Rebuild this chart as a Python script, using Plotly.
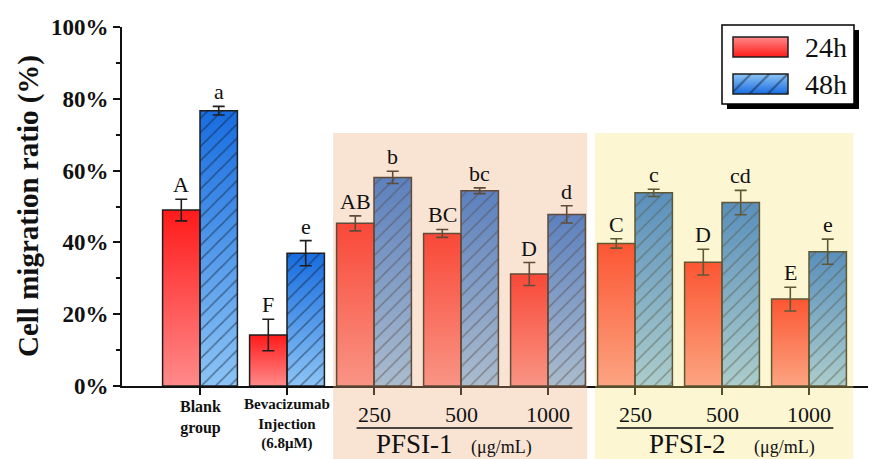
import plotly.graph_objects as go

# ---------------- data ----------------
group_labels = ["<b>Blank<br>group</b>", "<b>Bevacizumab<br>Injection<br>(6.8μM)</b>",
                "250", "500", "1000", "250", "500", "1000"]
v24 = [49.0, 14.2, 45.3, 42.5, 31.2, 39.7, 34.5, 24.2]
e24 = [3.0, 4.4, 2.1, 1.1, 3.2, 1.3, 3.6, 3.3]
v48 = [76.7, 37.0, 58.1, 54.4, 47.8, 53.8, 51.1, 37.4]
e48 = [1.2, 3.5, 1.7, 0.8, 2.4, 1.0, 3.4, 3.5]
l24 = ["A", "F", "AB", "BC", "D", "C", "D", "E"]
l48 = ["a", "e", "b", "bc", "d", "c", "cd", "e"]
y_ticks = [0, 20, 40, 60, 80, 100]
y_minor = [10, 30, 50, 70, 90]
series_names = ["24h", "48h"]
dose_groups = ["PFSI-1", "PFSI-2"]
unit = "(μg/mL)"

W, H = 876, 459
OFF = 8            # page offset of the plot div


def fx(px):        # screen pixel -> paper x
    return (px - OFF) / W


def fy(py):        # screen pixel -> paper y
    return (H - (py - OFF)) / H


FONT = "Liberation Serif"
pos = list(range(len(v24)))
BW = 0.43
X_RANGE = [(122 - 200) / 87, (876 - 200) / 87]

RED_TOP, RED_BOT = "#ff1a1a", "#ff8a8a"
BLUE_TOP, BLUE_BOT = "#186de0", "#8cc4f5"
EDGE = "#1e1e1e"
HATCH = dict(shape="/", size=10, solidity=0.15, fgcolor="#101a2a", bgcolor="rgba(0,0,0,0)")

fig = go.Figure()

# gradient fills per bar (base subplot, below the bars)
for i, v in zip(pos, v24):
    fig.add_trace(go.Scatter(x=[i - BW, i, i, i - BW, i - BW], y=[0, 0, v, v, 0],
                             fill="toself", mode="none", hoverinfo="skip", showlegend=False,
                             fillgradient=dict(type="vertical",
                                               colorscale=[[0, RED_BOT], [1, RED_TOP]])))
for i, v in zip(pos, v48):
    fig.add_trace(go.Scatter(x=[i, i + BW, i + BW, i, i], y=[0, 0, v, v, 0],
                             fill="toself", mode="none", hoverinfo="skip", showlegend=False,
                             fillgradient=dict(type="vertical",
                                               colorscale=[[0, BLUE_BOT], [1, BLUE_TOP]])))

# bars: outlines, hatching, error bars (overlay subplot on top)
fig.add_trace(go.Bar(x=pos, y=v24, width=BW, offset=-BW, name=series_names[0],
                     xaxis="x3", yaxis="y3",
                     marker=dict(color="rgba(0,0,0,0)", line=dict(color=EDGE, width=1.5)),
                     error_y=dict(type="data", array=e24, color=EDGE, thickness=1.6, width=6),
                     showlegend=False))
fig.add_trace(go.Bar(x=pos, y=v48, width=BW, offset=0, name=series_names[1],
                     xaxis="x3", yaxis="y3",
                     marker=dict(color="rgba(0,0,0,0)", line=dict(color=EDGE, width=1.5),
                                 pattern=HATCH),
                     error_y=dict(type="data", array=e48, color=EDGE, thickness=1.6, width=6),
                     showlegend=False))

# ---------------- legend (pixel axes) ----------------
sw_x0, sw_x1 = 733, 788
sw_rows = [(37, 57), (74, 94)]
legend_colors = [(RED_TOP, RED_BOT), (BLUE_TOP, BLUE_BOT)]
for (y0, y1), (ct, cb) in zip(sw_rows, legend_colors):
    fig.add_trace(go.Scatter(x=[sw_x0, sw_x1, sw_x1, sw_x0, sw_x0], y=[y1, y1, y0, y0, y1],
                             xaxis="x2", yaxis="y2", fill="toself", mode="none",
                             hoverinfo="skip", showlegend=False,
                             fillgradient=dict(type="vertical", colorscale=[[0, ct], [1, cb]])))
for k, (y0, y1) in enumerate(sw_rows):
    mk = dict(color="rgba(0,0,0,0)", line=dict(color=EDGE, width=1.5))
    if k == 1:
        mk["pattern"] = dict(HATCH, size=13)
    fig.add_trace(go.Bar(x=[(sw_x0 + sw_x1) / 2], y=[y1 - y0], base=[y0], width=sw_x1 - sw_x0,
                         xaxis="x4", yaxis="y4", hoverinfo="skip", showlegend=False, marker=mk))

shapes = [
    dict(type="rect", xref="x2", yref="y2", x0=727, x1=859, y0=30, y1=109,
         fillcolor="#000", line=dict(width=0), layer="below"),
    dict(type="rect", xref="x2", yref="y2", x0=722, x1=854, y0=25, y1=104,
         fillcolor="#fff", line=dict(color="#000", width=1.5), layer="below"),
    # translucent group highlights
    dict(type="rect", xref="x", yref="paper", x0=1.53, x1=4.45, y0=-0.05, y1=fy(133),
         fillcolor="rgba(235,170,120,0.32)", line=dict(width=0), layer="above"),
    dict(type="rect", xref="x", yref="paper", x0=4.54, x1=7.51, y0=-0.05, y1=fy(133),
         fillcolor="rgba(245,225,110,0.30)", line=dict(width=0), layer="above"),
    # underlines for dose groups
    dict(type="line", xref="x", yref="paper", x0=1.80, x1=4.28, y0=fy(428), y1=fy(428),
         line=dict(color="#111", width=1.5)),
    dict(type="line", xref="x", yref="paper", x0=4.79, x1=7.28, y0=fy(428), y1=fy(428),
         line=dict(color="#111", width=1.5)),
]

annotations = []
# significance letters
for i, (v, e, t) in enumerate(zip(v24, e24, l24)):
    annotations.append(dict(x=i - BW / 2, y=v + e, xref="x", yref="y", text=t, showarrow=False,
                            xanchor="center", yanchor="bottom", yshift=0,
                            font=dict(family=FONT, size=22, color="#111")))
for i, (v, e, t) in enumerate(zip(v48, e48, l48)):
    annotations.append(dict(x=i + BW / 2, y=v + e, xref="x", yref="y", text=t, showarrow=False,
                            xanchor="center", yanchor="bottom", yshift=0,
                            font=dict(family=FONT, size=22, color="#111")))


def label(x, y, text, size, xref="x"):
    annotations.append(dict(x=x, y=y, xref=xref, yref="paper", text=text, showarrow=False,
                            xanchor="center", yanchor="middle",
                            font=dict(family=FONT, size=size, color="#111")))


# category labels
label(0, fy(417.5), group_labels[0], 16)
label(1, fy(423.5), group_labels[1], 15)
for i in range(2, 8):
    label(i, fy(414), group_labels[i], 22)
for gname, gx, ux in zip(dose_groups, [2.466, 5.603], [3.466, 6.724]):
    label(gx, fy(444), gname, 27)
    label(ux, fy(447), unit, 18)

# legend labels
for name, (y0, y1) in zip(series_names, sw_rows):
    annotations.append(dict(x=826, y=(y0 + y1) / 2, xref="x2", yref="y2", text=name, showarrow=False,
                            xanchor="center", yanchor="middle",
                            font=dict(family=FONT, size=28, color="#111")))

# y title
annotations.append(dict(x=fx(28), y=fy(206), xref="paper", yref="paper",
                        xanchor="center", yanchor="middle",
                        text="<b>Cell migration ratio (%)</b>", textangle=-90, showarrow=False,
                        font=dict(family=FONT, size=29, color="#111")))

hidden = dict(visible=False, fixedrange=True, automargin=False)
fig.update_layout(
    width=W, height=H, margin=dict(l=0, r=0, t=0, b=0, pad=0, autoexpand=False),
    paper_bgcolor="white", plot_bgcolor="rgba(0,0,0,0)",
    barmode="overlay", showlegend=False,
    shapes=shapes, annotations=annotations,
    xaxis=dict(domain=[fx(122), fx(876)], range=X_RANGE, showgrid=False, zeroline=False,
               showline=True, linecolor="#111", linewidth=2, ticks="outside", ticklen=7,
               tickwidth=2, tickcolor="#111", tickvals=pos, showticklabels=False, fixedrange=True,
               automargin=False),
    yaxis=dict(domain=[fy(386), fy(27)], range=[0, 100], showgrid=False, zeroline=False,
               showline=True, linecolor="#111", linewidth=2, ticks="outside", ticklen=7,
               tickwidth=2, tickcolor="#111", tickmode="array", tickvals=y_ticks,
               ticktext=[f"{t}%" for t in y_ticks],
               tickfont=dict(family=FONT, size=23, color="#111", weight="bold"),
               minor=dict(tickvals=y_minor, ticks="outside", ticklen=4,
                          tickwidth=1.5, tickcolor="#111"),
               fixedrange=True, automargin=False),
    xaxis3=dict(overlaying="x", range=X_RANGE, anchor="y3", **hidden),
    yaxis3=dict(overlaying="y", range=[0, 100], anchor="x3", **hidden),
    xaxis2=dict(domain=[0, 1], range=[OFF, W + OFF], anchor="y2", **hidden),
    yaxis2=dict(domain=[0, 1], range=[H + OFF, OFF], anchor="x2", **hidden),
    xaxis4=dict(overlaying="x2", range=[OFF, W + OFF], anchor="y4", **hidden),
    yaxis4=dict(overlaying="y2", range=[H + OFF, OFF], anchor="x4", **hidden),
)

fig.write_html("out.html")
